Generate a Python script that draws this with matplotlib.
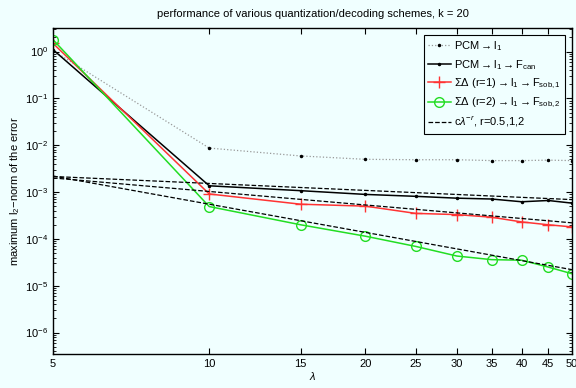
import numpy as np
import matplotlib.pyplot as plt
from matplotlib.ticker import FixedLocator, NullFormatter, LogLocator

plt.rcParams['font.family'] = ['Liberation Sans', 'DejaVu Sans']
plt.rcParams['mathtext.fontset'] = 'custom'
plt.rcParams['mathtext.rm'] = 'Liberation Sans'
plt.rcParams['mathtext.it'] = 'Liberation Sans:italic'

# lambda values
lam = [5, 10, 15, 20, 25, 30, 35, 40, 45, 50]

# error curves
pcm_l1 = [1.05, 8.7e-3, 5.9e-3, 5.0e-3, 4.9e-3, 4.9e-3, 4.7e-3, 4.7e-3, 4.8e-3, 4.7e-3]
pcm_can = [1.1, 1.36e-3, 1.07e-3, 8.9e-4, 8.1e-4, 7.4e-4, 7.1e-4, 6.2e-4, 6.6e-4, 5.8e-4]
sd1_sob = [1.5, 9.1e-4, 5.5e-4, 5.0e-4, 3.5e-4, 3.3e-4, 2.9e-4, 2.3e-4, 2.0e-4, 1.8e-4]
sd2_sob = [1.8, 4.9e-4, 2.0e-4, 1.14e-4, 6.9e-5, 4.3e-5, 3.6e-5, 3.5e-5, 2.5e-5, 1.8e-5]

# reference slopes c*lambda^-r (endpoints only, straight lines on log-log)
ref_lam = [5, 50]
ref_r05 = [2.15e-3, 6.9e-4]
ref_r1 = [2.0e-3, 2.2e-4]
ref_r2 = [2.2e-3, 2.2e-5]

bg = '#f0ffff'
fig = plt.figure(figsize=(5.76, 3.88), dpi=100, facecolor=bg)
ax = fig.add_axes([0.092, 0.088, 0.901, 0.84], facecolor=bg)

ax.plot(lam, pcm_l1, color='#999999', ls=':', lw=0.9, marker='.', ms=3,
        mfc='k', mec='k', label=r'PCM$\rightarrow$l$_1$')
ax.plot(lam, pcm_can, color='k', ls='-', lw=1.1, marker='.', ms=3,
        label=r'PCM$\rightarrow$l$_1$$\rightarrow$F$_{\rm can}$')
ax.plot(lam, sd1_sob, color='#ff3333', ls='-', lw=1.1, marker='+', ms=8,
        mew=1.0, label=r'$\Sigma\Delta$ (r=1)$\rightarrow$l$_1$$\rightarrow$F$_{\rm sob,1}$')
ax.plot(lam, sd2_sob, color='#22dd22', ls='-', lw=1.1, marker='o', ms=7,
        mfc='none', mew=1.0, label=r'$\Sigma\Delta$ (r=2)$\rightarrow$l$_1$$\rightarrow$F$_{\rm sob,2}$')
ax.plot(ref_lam, ref_r05, 'k--', lw=0.9, label=r'c$\lambda^{-r}$, r=0.5,1,2')
ax.plot(ref_lam, ref_r1, 'k--', lw=0.9)
ax.plot(ref_lam, ref_r2, 'k--', lw=0.9)

ax.set_xscale('log')
ax.set_yscale('log')
ax.set_xlim(5, 50)
ax.set_ylim(3.5e-7, 3.2)

ax.xaxis.set_major_locator(FixedLocator(lam))
ax.xaxis.set_minor_locator(FixedLocator([]))
ax.xaxis.set_minor_formatter(NullFormatter())
ax.set_xticklabels([str(v) for v in lam])
ax.yaxis.set_major_locator(FixedLocator([1e-6, 1e-5, 1e-4, 1e-3, 1e-2, 1e-1, 1]))
ax.yaxis.set_minor_locator(LogLocator(base=10, subs=np.arange(2, 10), numticks=20))

ax.tick_params(which='both', direction='in', top=True, right=True, labelsize=8)
ax.tick_params(which='major', length=4, width=0.8)
ax.tick_params(which='minor', length=2, width=0.6)
for s in ax.spines.values():
    s.set_linewidth(1.0)

ax.set_title('performance of various quantization/decoding schemes, k = 20', fontsize=8, pad=8)
ax.set_xlabel(r'$\lambda$', fontsize=8, labelpad=1)
ax.set_ylabel(r'maximum l$_2$$-$norm of the error', fontsize=8, labelpad=2)

leg = ax.legend(loc='upper right', fontsize=8, frameon=True, fancybox=False,
                edgecolor='k', facecolor=bg, framealpha=1, handlelength=2.0,
                handletextpad=0.3, borderpad=0.4, labelspacing=0.45, borderaxespad=0.6)
leg.get_frame().set_linewidth(0.8)

fig.savefig('out.png', dpi=100, facecolor=bg)
